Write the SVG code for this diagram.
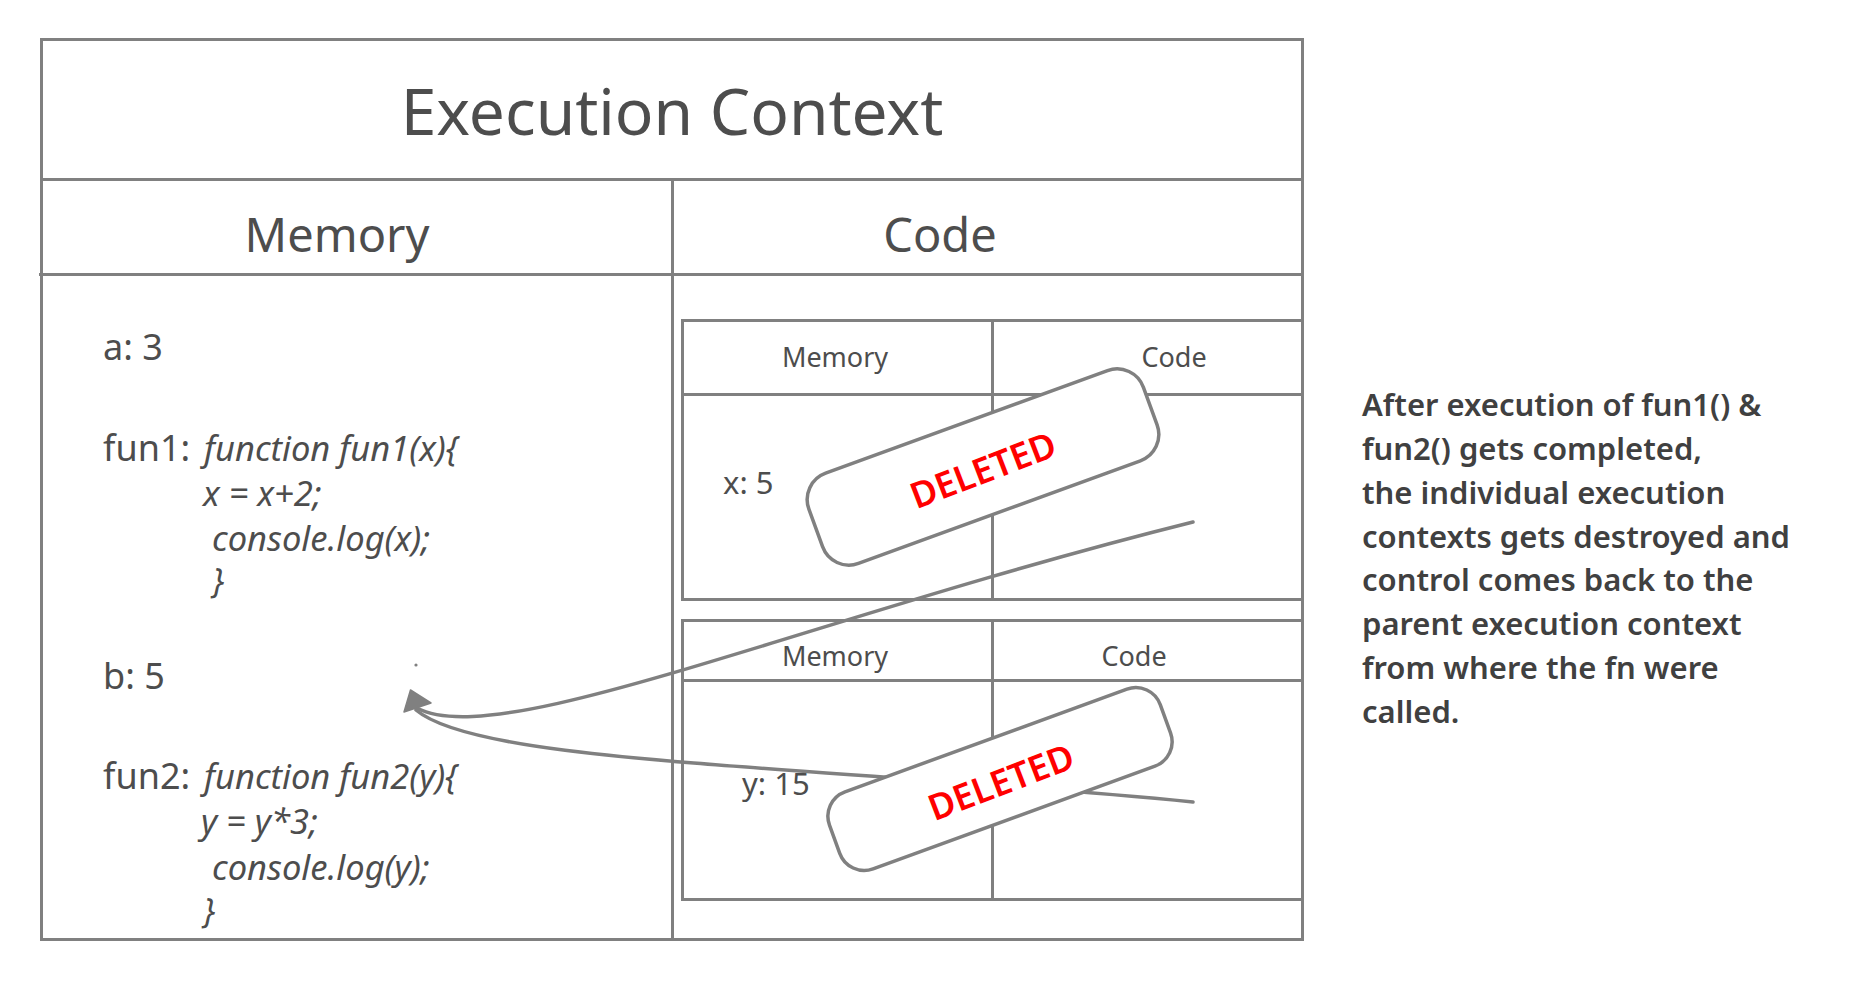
<svg xmlns="http://www.w3.org/2000/svg" width="1862" height="993" viewBox="0 0 1862 993">
<style>
.ln{stroke:#808080;stroke-width:3;fill:none}
.box{stroke:#808080;stroke-width:3;fill:#fff}
.t{font-family:"Noto Sans","Open Sans",sans-serif;fill:#4d4d4d}
.i{font-style:italic}
.stamp{fill:#fff;stroke:#808080;stroke-width:3.5}
.del{font-family:"Noto Sans","Open Sans",sans-serif;font-weight:600;fill:#ff0000;font-size:36px;text-anchor:middle}
.conn{stroke:#808080;stroke-width:3.5;fill:none;stroke-linecap:round}
</style>
<rect width="1862" height="993" fill="#fff"/>
<g id="execution-context">
<rect class="box" x="41.5" y="39.5" width="1261" height="900"/>
<line class="ln" x1="41.5" y1="179.5" x2="1302.5" y2="179.5"/>
<line class="ln" x1="39" y1="274.5" x2="1302.5" y2="274.5"/>
<line class="ln" x1="672.5" y1="179.5" x2="672.5" y2="939.5"/>
<text class="t" x="672" y="135" font-size="64" text-anchor="middle">Execution Context</text>
<text class="t" x="337" y="252" font-size="47" text-anchor="middle">Memory</text>
<text class="t" x="940" y="252" font-size="47" text-anchor="middle">Code</text>
</g>
<g id="global-memory">
<text class="t" x="103" y="360" font-size="36">a: 3</text>
<text class="t" x="103" y="461" font-size="36">fun1:</text>
<text class="t i" x="204" y="461" font-size="34.5">function fun1(x){</text>
<text class="t i" x="203" y="506" font-size="34.5">x = x+2;</text>
<text class="t i" x="212" y="551" font-size="34.5">console.log(x);</text>
<text class="t i" x="212" y="593" font-size="34.5">}</text>
<text class="t" x="103" y="689" font-size="36">b: 5</text>
<text class="t" x="103" y="789" font-size="36">fun2:</text>
<text class="t i" x="204" y="789" font-size="34.5">function fun2(y){</text>
<text class="t i" x="201" y="834" font-size="34.5">y = y*3;</text>
<text class="t i" x="212" y="880" font-size="34.5">console.log(y);</text>
<text class="t i" x="203" y="923" font-size="34.5">}</text>
</g>
<g id="fun1-context">
<rect class="box" x="682.5" y="320.5" width="620" height="279"/>
<line class="ln" x1="682.5" y1="394.5" x2="1302.5" y2="394.5"/>
<line class="ln" x1="992.5" y1="320.5" x2="992.5" y2="599.5"/>
<text class="t" x="835" y="367" font-size="27" text-anchor="middle">Memory</text>
<text class="t" x="1174" y="367" font-size="27" text-anchor="middle">Code</text>
<text class="t" x="723" y="494" font-size="31">x: 5</text>
</g>
<g id="fun2-context">
<rect class="box" x="682.5" y="620.5" width="620" height="279"/>
<line class="ln" x1="682.5" y1="680.5" x2="1302.5" y2="680.5"/>
<line class="ln" x1="992.5" y1="620.5" x2="992.5" y2="899.5"/>
<text class="t" x="835" y="666" font-size="27" text-anchor="middle">Memory</text>
<text class="t" x="1134" y="666" font-size="27" text-anchor="middle">Code</text>
<text class="t" x="742" y="795" font-size="31">y: 15</text>
</g>
<g id="connectors">
<path class="conn" d="M1193,522 C800,620 500,752 417,708"/>
<path class="conn" d="M1193,802 C800,764 480,764 416,710"/>
<polygon points="410.5,690 404,712 431,703" fill="#808080" stroke="#808080" stroke-width="1.5" stroke-linejoin="round"/>
<circle cx="416" cy="665" r="1.6" fill="#808080"/>
</g>
<g id="stamp-fun1">
<rect class="stamp" x="-178" y="-48" width="356" height="96" rx="28" transform="translate(983 467) rotate(-20)"/>
<text class="del" x="0" y="13" transform="translate(983 470) rotate(-21)">DELETED</text>
</g>
<g id="stamp-fun2">
<rect class="stamp" x="-176" y="-41" width="352" height="82" rx="26" transform="translate(1000 779) rotate(-20)"/>
<text class="del" x="0" y="13" transform="translate(1001 782) rotate(-21)">DELETED</text>
</g>
<g id="note">
<text class="t" font-size="31" font-weight="600" style="fill:#404040">
<tspan x="1362" y="416">After execution of fun1() &amp;</tspan>
<tspan x="1362" y="460">fun2() gets completed,</tspan>
<tspan x="1362" y="504">the individual execution</tspan>
<tspan x="1362" y="548">contexts gets destroyed and</tspan>
<tspan x="1362" y="591">control comes back to the</tspan>
<tspan x="1362" y="635">parent execution context</tspan>
<tspan x="1362" y="679">from where the fn were</tspan>
<tspan x="1362" y="723">called.</tspan>
</text>
</g>
</svg>
